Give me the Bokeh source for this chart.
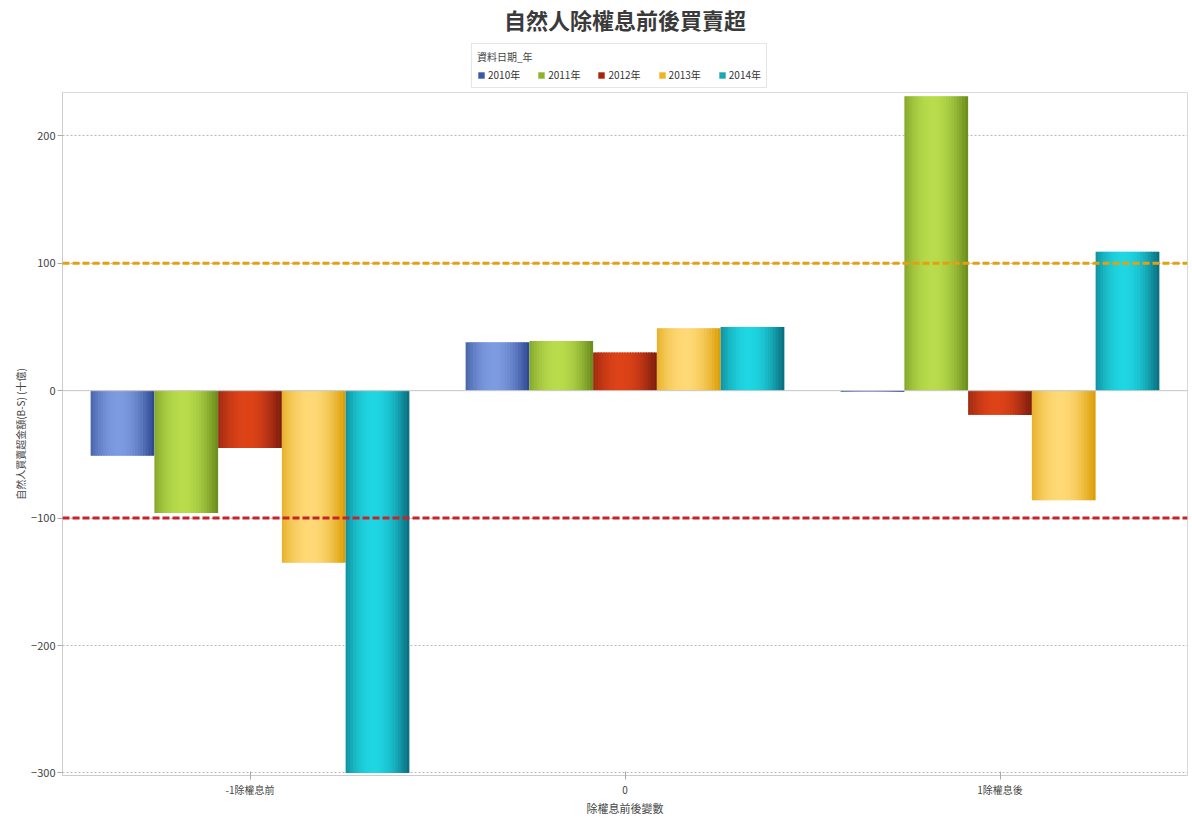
from bokeh.plotting import figure
from bokeh.layouts import column
from bokeh.models import (ColumnDataSource, FactorRange, Range1d, Span, Legend, LegendItem,
                          FixedTicker)
from bokeh.transform import dodge
from bokeh.embed import file_html
from bokeh.resources import INLINE

# ---- data ----
categories = ["-1除權息前", "0", "1除權息後"]
years = ["2010年", "2011年", "2012年", "2013年", "2014年"]
v2010 = [-51, 38, -1]
v2011 = [-96, 39, 231]
v2012 = [-45, 30, -19]
v2013 = [-135, 49, -86]
v2014 = [-300, 50, 109]
series = [v2010, v2011, v2012, v2013, v2014]
ref_high = 100
ref_low = -100

# ---- styles ----
edge_colors = ["#2a448c", "#67891a", "#781a0c", "#d99a00", "#09697a"]
center_colors = ["#7d9be0", "#b8dc4c", "#de4318", "#ffd976", "#1fd6e2"]
legend_colors = ["#3a58a6", "#8bb42c", "#a8240e", "#f0b420", "#1aa6b4"]
FONT = "Noto Sans CJK TC"

src = ColumnDataSource(dict(cat=categories, **{f"s{i}": s for i, s in enumerate(series)}))

# ---- header figure: title + legend ----
head = figure(x_range=FactorRange(*categories), y_range=Range1d(0, 1),
              width=1192, height=92, output_backend="svg", toolbar_location=None,
              min_border_left=0, min_border_right=0, min_border_top=0, min_border_bottom=0,
              outline_line_color=None)
head.axis.visible = False
head.grid.grid_line_color = None
head.title.text = "自然人除權息前後買賣超"
head.title.align = "center"
head.title.text_font = FONT
head.title.text_font_size = "22px"
head.title.text_font_style = "bold"
head.title.text_color = "#3a3a3a"
head.title.offset = 0
head.title.standoff = 0

legend_items = []
for i, yr in enumerate(years):
    lr = head.vbar(x="cat", top=0, bottom=0, width=0, source=src,
                   fill_color=legend_colors[i], line_color=None)
    legend_items.append(LegendItem(label=yr, renderers=[lr]))

legend = Legend(items=legend_items, orientation="horizontal", location=(409, 4),
                title="資料日期_年", title_text_font=FONT, title_text_font_size="10px",
                title_text_font_style="normal", title_text_color="#444444",
                label_text_font=FONT, label_text_font_size="10px", label_text_color="#333333",
                glyph_width=8, glyph_height=8, label_standoff=3, spacing=17,
                padding=5, margin=0, border_line_color="#cccccc",
                label_height=10, title_standoff=3, background_fill_alpha=1.0)
head.add_layout(legend, "center")

# ---- main chart ----
p = figure(x_range=FactorRange(*categories, range_padding=0.0),
           y_range=Range1d(-302, 234),
           width=1192, height=726, output_backend="svg", toolbar_location=None,
           min_border_left=62, min_border_right=5, min_border_bottom=40, min_border_top=0,
           background_fill_color="white", border_fill_color="white")
p.outline_line_color = "#d9d9d9"

bar_w = 0.17
N = 24
def hex2rgb(h):
    return tuple(int(h[i:i+2], 16) for i in (1, 3, 5))
def mix(a, b, f):
    a, b = hex2rgb(a), hex2rgb(b)
    return "#%02x%02x%02x" % tuple(int(round(a[j] + (b[j] - a[j]) * f)) for j in range(3))

for i, yr in enumerate(years):
    base_off = (i - 2) * bar_w
    for k in range(N):
        t = (k + 0.5) / N
        f = max(0.0, 1 - ((t - 0.45) / 0.55) ** 2)
        col = mix(edge_colors[i], center_colors[i], f)
        off = base_off + (t - 0.5) * bar_w
        w = bar_w / N * 1.5 if 0 < k < N - 1 else bar_w / N
        p.vbar(x=dodge("cat", off, range=p.x_range), top=f"s{i}", bottom=0, width=w,
               source=src, fill_color=col, line_color=None)

# zero line and reference lines
p.add_layout(Span(location=0, dimension="width", line_color="#cccccc", line_width=1))
p.add_layout(Span(location=ref_high, dimension="width", line_color="#e3a010", line_width=3, line_dash="7 3"))
p.add_layout(Span(location=ref_low, dimension="width", line_color="#c8232a", line_width=3, line_dash="7 3"))

# axes
p.yaxis.ticker = FixedTicker(ticks=[-300, -200, -100, 0, 100, 200])
p.yaxis.axis_label = "自然人買賣超金額(B-S) (十億)"
p.yaxis.axis_label_text_font = FONT
p.yaxis.axis_label_text_font_size = "10px"
p.yaxis.axis_label_text_font_style = "normal"
p.yaxis.axis_label_text_color = "#444444"
p.yaxis.axis_label_standoff = 0
p.yaxis.major_label_standoff = 2
p.yaxis.major_label_text_font = FONT
p.yaxis.major_label_text_font_size = "11px"
p.yaxis.major_label_text_color = "#444444"
p.yaxis.axis_line_color = "#cccccc"
p.yaxis.major_tick_line_color = "#aaaaaa"
p.yaxis.major_tick_out = 5
p.yaxis.major_tick_in = 0
p.yaxis.minor_tick_line_color = None

p.xaxis.axis_label = "除權息前後變數"
p.xaxis.axis_label_text_font = FONT
p.xaxis.axis_label_text_font_size = "11px"
p.xaxis.axis_label_text_font_style = "normal"
p.xaxis.axis_label_text_color = "#444444"
p.xaxis.axis_label_standoff = 0
p.xaxis.major_label_standoff = 2
p.xaxis.major_label_text_font = FONT
p.xaxis.major_label_text_font_size = "10px"
p.xaxis.major_label_text_color = "#444444"
p.xaxis.axis_line_color = "#cccccc"
p.xaxis.major_tick_line_color = "#aaaaaa"
p.xaxis.major_tick_in = 4
p.xaxis.major_tick_out = 4

p.xgrid.grid_line_color = None
p.ygrid.grid_line_color = "#bbbbbb"
p.ygrid.grid_line_dash = "2 2"

layout = column(head, p, spacing=0)
open("out.html", "w").write(file_html(layout, INLINE))
